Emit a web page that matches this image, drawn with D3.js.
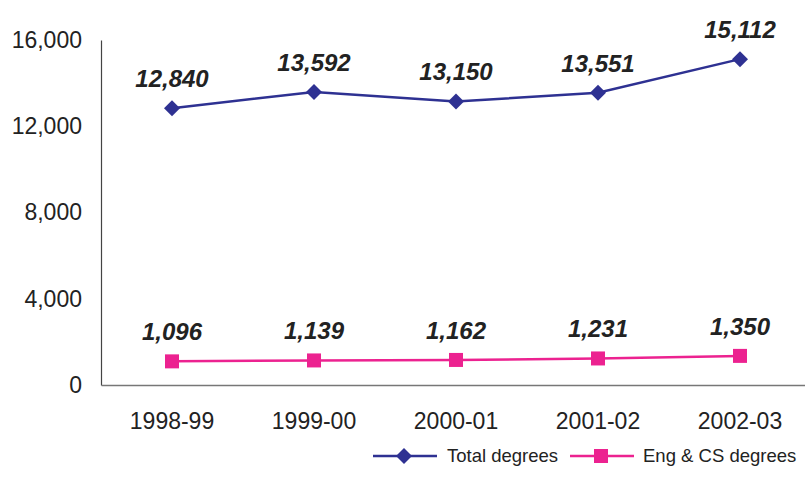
<!DOCTYPE html>
<html>
<head>
<meta charset="utf-8">
<script src="https://cdn.jsdelivr.net/npm/d3@7"></script>
<style>
  html, body { margin: 0; padding: 0; background: #fff; overflow: hidden; }
  svg { display: block; font-family: Arial, "Liberation Sans", Helvetica, sans-serif; }
</style>
</head>
<body>
<svg id="chart" width="805" height="494"></svg>
<script>
// Academic years and degrees awarded
const years = ["1998-99", "1999-00", "2000-01", "2001-02", "2002-03"];
const totalDegrees = [12840, 13592, 13150, 13551, 15112];
const engCsDegrees = [1096, 1139, 1162, 1231, 1350];
const yTicks = [0, 4000, 8000, 12000, 16000];

const seriesNames = ["Total degrees", "Eng & CS degrees"];
const seriesColors = ["#2e3192", "#ec2290"];

const svg = d3.select("#chart");
const plot = { left: 101, right: 811, top: 40, bottom: 385 };

const x = d3.scaleBand().domain(years).range([plot.left, plot.right]);
const y = d3.scaleLinear().domain([0, 16000]).range([plot.bottom, plot.top]);
const fmt = d3.format(",");

// Y axis: line plus labels, no tick marks
const yAxis = svg.append("g")
  .attr("transform", `translate(${plot.left},0)`)
  .call(d3.axisLeft(y).tickValues(yTicks).tickFormat(fmt).tickSize(0).tickPadding(19));
yAxis.select(".domain").attr("stroke", "#444").attr("stroke-width", 1.2);
yAxis.selectAll("text").attr("font-size", 23).attr("fill", "#222")
  .attr("font-family", "Arial, 'Liberation Sans', sans-serif");

// X axis along zero
const xAxis = svg.append("g")
  .attr("transform", `translate(0,${y(0)})`)
  .call(d3.axisBottom(x).tickSize(0).tickPadding(28));
xAxis.select(".domain").attr("stroke", "#777").attr("stroke-width", 1.5);
xAxis.selectAll("text").attr("font-size", 23).attr("fill", "#222")
  .attr("font-family", "Arial, 'Liberation Sans', sans-serif");

const cx = d => x(d) + x.bandwidth() / 2;

const series = [
  { name: seriesNames[0], values: totalDegrees, color: seriesColors[0], symbol: "diamond" },
  { name: seriesNames[1], values: engCsDegrees, color: seriesColors[1], symbol: "square" }
];

function marker(g, kind, color) {
  if (kind === "diamond") {
    g.append("path").attr("d", "M0,-8L8,0L0,8L-8,0Z").attr("fill", color);
  } else {
    g.append("rect").attr("x", -7).attr("y", -7).attr("width", 14).attr("height", 14).attr("fill", color);
  }
}

const line = d3.line().x((v, i) => cx(years[i])).y(v => y(v));

series.forEach(s => {
  svg.append("path")
    .datum(s.values)
    .attr("d", line)
    .attr("fill", "none")
    .attr("stroke", s.color)
    .attr("stroke-width", 2.5);

  s.values.forEach((v, i) => {
    const g = svg.append("g").attr("transform", `translate(${cx(years[i])},${y(v)})`);
    marker(g, s.symbol, s.color);
    svg.append("text")
      .attr("x", cx(years[i]))
      .attr("y", y(v) - 21)
      .attr("text-anchor", "middle")
      .attr("font-size", 24)
      .attr("font-weight", "bold")
      .attr("font-style", "italic")
      .attr("fill", "#222")
      .text(fmt(v));
  });
});

// Legend
const legendItems = [
  { x0: 373, textX: 447 },
  { x0: 570, textX: 643 }
];
series.forEach((s, i) => {
  const L = legendItems[i];
  const ly = 456;
  svg.append("line")
    .attr("x1", L.x0).attr("x2", L.x0 + 64)
    .attr("y1", ly).attr("y2", ly)
    .attr("stroke", s.color).attr("stroke-width", 2.5);
  const g = svg.append("g").attr("transform", `translate(${L.x0 + 31},${ly})`);
  marker(g, s.symbol, s.color);
  svg.append("text")
    .attr("x", L.textX).attr("y", ly + 6)
    .attr("font-size", 18.5)
    .attr("fill", "#222")
    .text(s.name);
});
</script>
</body>
</html>
